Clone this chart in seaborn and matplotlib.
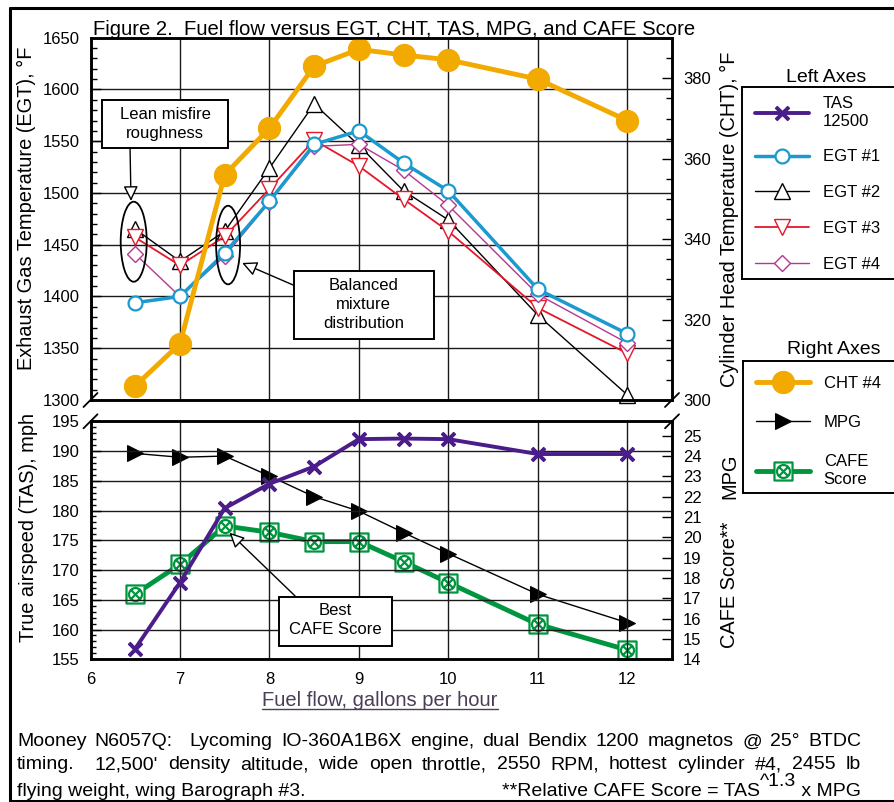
import re
import numpy as np
import pandas as pd
import matplotlib
matplotlib.use("Agg")
import matplotlib.pyplot as plt
import seaborn as sns
from matplotlib.path import Path
from matplotlib.patches import Ellipse, Rectangle
from matplotlib.lines import Line2D
from matplotlib.ticker import MultipleLocator, FixedLocator

# ---------------- data ----------------
fuel_flow = [6.5, 7, 7.5, 8, 8.5, 9, 9.5, 10, 11, 12]
egt1 = [1394, 1400, 1442, 1492, 1547, 1560, 1529, 1502, 1407, 1364]
egt2 = [1465, 1434, 1463, 1524, 1586, 1546, 1502, 1474, 1382, 1305]
egt3 = [1457, 1430, 1458, 1504, 1551, 1526, 1494, 1463, 1389, 1345]
egt4 = [1441, 1400, 1439, 1491, 1545, 1547, 1522, 1488, 1402, 1355]
cht4 = [303.5, 314.0, 356.0, 367.6, 383.0, 387.2, 385.8, 384.6, 379.8, 369.5]
tas = [156.8, 167.9, 180.4, 184.5, 187.4, 192.0, 192.1, 192.0, 189.5, 189.5]
mpg = [24.13, 23.94, 24.0, 23.02, 22.0, 21.29, 20.23, 19.2, 17.2, 15.8]
cafe = [17.21, 18.67, 20.56, 20.25, 19.79, 19.79, 18.8, 17.77, 15.72, 14.46]

egt_ticks = [1300, 1350, 1400, 1450, 1500, 1550, 1600, 1650]
cht_ticks = [300, 320, 340, 360, 380]
tas_ticks = [155, 160, 165, 170, 175, 180, 185, 190, 195]
mpg_ticks = list(range(14, 26))
x_ticks = [6, 7, 8, 9, 10, 11, 12]

left_labels = ["TAS\n12500", "EGT #1", "EGT #2", "EGT #3", "EGT #4"]
right_labels = ["CHT #4", "MPG", "CAFE\nScore"]

title = "Figure 2.  Fuel flow versus EGT, CHT, TAS, MPG, and CAFE Score"
foot1 = "Mooney N6057Q:  Lycoming IO-360A1B6X engine, dual Bendix 1200 magnetos @ 25\u00b0 BTDC"
foot2 = "timing.  12,500' density altitude, wide open throttle, 2550 RPM, hottest cylinder #4, 2455 lb"
foot3 = "flying weight, wing Barograph #3."

# ---------------- style ----------------
W, H = 894, 802
sns.set_theme(style="white")
plt.rcParams["font.family"] = ["Liberation Sans", "DejaVu Sans"]
for k in ["text.color", "axes.labelcolor", "xtick.color", "ytick.color", "axes.edgecolor"]:
    plt.rcParams[k] = "black"

c_tas = "#4B1D8A"
c_egt1 = "#1B9AD0"
c_egt2 = "black"
c_egt3 = "#E4172B"
c_egt4 = "#B5378F"
c_cht = "#F2A900"
c_mpg = "black"
c_cafe = "#00963F"

fig = plt.figure(figsize=(W / 100, H / 100), dpi=100)
fig.patch.set_facecolor("white")


def fx(px):
    return px / W


def fy(py):
    return 1 - py / H


L, R = 90.5, 672.0
T1, B1 = 37.7, 400.0
T2, B2 = 421.3, 659.3
ax1 = fig.add_axes([fx(L), fy(B1), fx(R) - fx(L), fy(T1) - fy(B1)])
ax2 = fig.add_axes([fx(L), fy(B2), fx(R) - fx(L), fy(T2) - fy(B2)])
ax1r = ax1.twinx()
ax2r = ax2.twinx()

# custom CAFE marker: square with circled x
sq = Path([(-1, -1), (1, -1), (1, 1), (-1, 1), (-1, -1)],
          [Path.MOVETO, Path.LINETO, Path.LINETO, Path.LINETO, Path.CLOSEPOLY])
circ = Path.circle((0, 0), 0.72)
d1 = Path([(-0.5, -0.5), (0.5, 0.5)], [Path.MOVETO, Path.LINETO])
d2 = Path([(-0.5, 0.5), (0.5, -0.5)], [Path.MOVETO, Path.LINETO])
cafe_marker = Path.make_compound_path(sq, circ, d1, d2)


def draw(ax, y, **kw):
    sns.lineplot(x=fuel_flow, y=y, ax=ax, clip_on=False, **kw)
    return ax.lines[-1]


# top panel (left axis: EGT)
h_e2 = draw(ax1, egt2, color=c_egt2, lw=1.0, marker="^", markersize=11,
            markerfacecolor="white", markeredgecolor=c_egt2, markeredgewidth=1.0)
h_e3 = draw(ax1, egt3, color=c_egt3, lw=1.3, marker="v", markersize=11,
            markerfacecolor="white", markeredgecolor=c_egt3, markeredgewidth=1.0)
h_e4 = draw(ax1, egt4, color=c_egt4, lw=1.0, marker="D", markersize=8,
            markerfacecolor="white", markeredgecolor=c_egt4, markeredgewidth=1.0)
h_e1 = draw(ax1, egt1, color=c_egt1, lw=2.5, marker="o", markersize=10,
            markerfacecolor="white", markeredgecolor=c_egt1, markeredgewidth=1.6)
# top panel (right axis: CHT)
h_cht = draw(ax1r, cht4, color=c_cht, lw=3.5, marker="o", markersize=16,
             markerfacecolor=c_cht, markeredgecolor=c_cht)

# bottom panel
h_mpg = draw(ax2r, mpg, color=c_mpg, lw=1.0, marker=">", markersize=11,
             markerfacecolor=c_mpg, markeredgecolor=c_mpg)
h_cafe = draw(ax2r, cafe, color=c_cafe, lw=3.5, marker=cafe_marker, markersize=13,
              markerfacecolor="white", markeredgecolor=c_cafe, markeredgewidth=1.6)
h_tas = draw(ax2, tas, color=c_tas, lw=2.8, marker=(4, 2, 45), markersize=13,
             markeredgecolor=c_tas, markeredgewidth=2.6)
ax2.set_zorder(ax2r.get_zorder() + 1)
ax2.patch.set_visible(False)

# ---------------- axes formatting ----------------
for ax in (ax1, ax2, ax1r, ax2r):
    ax.set_xlim(6, 12.5)
    ax.set_xlabel("")
    ax.set_ylabel("")
    for s in ax.spines.values():
        s.set_linewidth(1.8)
        s.set_color("black")

ax1.set_ylim(1300, 1650)
ax1r.set_ylim(300, 390.1)
ax2.set_ylim(155, 195)
ax2r.set_ylim(14, 25.71)

ax1.yaxis.set_major_locator(FixedLocator(egt_ticks))
ax1.yaxis.set_minor_locator(MultipleLocator(10))
ax1r.yaxis.set_major_locator(FixedLocator(cht_ticks))
ax1r.yaxis.set_minor_locator(MultipleLocator(5))
ax2.yaxis.set_major_locator(FixedLocator(tas_ticks))
ax2.yaxis.set_minor_locator(MultipleLocator(1))
ax2r.yaxis.set_major_locator(FixedLocator(mpg_ticks))
for ax in (ax1, ax2):
    ax.xaxis.set_major_locator(FixedLocator(x_ticks))
ax2.xaxis.set_minor_locator(MultipleLocator(0.5))

ax1.tick_params(axis="x", which="both", length=0, labelbottom=False)
ax1.tick_params(axis="y", which="major", direction="in", length=7, width=1, labelsize=12, pad=8)
ax1.tick_params(axis="y", which="minor", direction="in", length=4, width=1)
ax1r.tick_params(axis="y", which="major", direction="in", length=7, width=1, labelsize=12, pad=8)
ax1r.tick_params(axis="y", which="minor", direction="in", length=4, width=1)
ax2.tick_params(axis="x", which="major", direction="in", length=7, width=1, labelsize=12, pad=9)
ax2.tick_params(axis="x", which="minor", direction="in", length=5, width=1)
ax2.tick_params(axis="y", which="major", direction="in", length=7, width=1, labelsize=12, pad=8)
ax2.tick_params(axis="y", which="minor", direction="in", length=3.5, width=1)
ax2r.tick_params(axis="y", which="major", direction="in", length=7, width=1, labelsize=12, pad=8)
ax2r.tick_params(axis="x", which="both", length=0)
ax1r.tick_params(axis="x", which="both", length=0)

for ax in (ax1, ax2):
    ax.grid(True, which="major", color="#1a1a1a", lw=1.0)
    ax.set_axisbelow(True)

# ---------------- annotations ----------------
box_kw = dict(fill=True, facecolor="white", edgecolor="black", lw=1.4, zorder=6)
arrow_kw = dict(arrowstyle="-|>,head_length=0.45,head_width=0.22", fc="white", ec="black",
                lw=1.0, shrinkA=0, shrinkB=0, mutation_scale=20)

# Lean misfire roughness
ax1.add_patch(Rectangle((6.129, 1543.5), 7.538 - 6.129, 1589.8 - 1543.5, **box_kw))
ax1.text(6.833, 1566.6, "Lean misfire\nroughness", ha="center", va="center",
         fontsize=12, linespacing=1.35, zorder=7)
ax1.annotate("", xy=(6.453, 1492.3), xytext=(6.442, 1543.5), arrowprops=arrow_kw, zorder=7)
ax1.add_patch(Ellipse((6.483, 1452.9), 0.291, 77.3, fill=False, ec="black", lw=1.3, zorder=6))

# Balanced mixture distribution
ax1.add_patch(Rectangle((8.2796, 1358.9), 9.8345 - 8.2796, 1424.6 - 1358.9, **box_kw))
ax1.text(9.054, 1392.3, "Balanced\nmixture\ndistribution", ha="center", va="center",
         fontsize=12, linespacing=1.35, zorder=7)
ax1.annotate("", xy=(7.695, 1432.4), xytext=(8.265, 1411.1), arrowprops=arrow_kw, zorder=7)
ax1.add_patch(Ellipse((7.538, 1449.7), 0.268, 75.9, fill=False, ec="black", lw=1.3, zorder=6))

# Best CAFE score
ax2.add_patch(Rectangle((8.1085, 157.24), 9.372 - 8.1085, 165.47 - 157.24, **box_kw))
ax2.text(8.74, 161.6, "Best\nCAFE Score", ha="center", va="center",
         fontsize=12, linespacing=1.35, zorder=7)
ax2.annotate("", xy=(7.553, 176.28), xytext=(8.287, 165.64), arrowprops=arrow_kw, zorder=7)

# ---------------- axis labels ----------------
fs_lab = 14.4
fig.text(fx(26), fy(208), "Exhaust Gas Temperature (EGT), \u00b0F", rotation=90,
         ha="center", va="center", fontsize=fs_lab)
fig.text(fx(29), fy(527), "True airspeed (TAS), mph", rotation=90,
         ha="center", va="center", fontsize=fs_lab)
fig.text(fx(729), fy(219), "Cylinder Head Temperature (CHT), \u00b0F", rotation=90,
         ha="center", va="center", fontsize=fs_lab)
fig.text(fx(730), fy(476), "MPG", rotation=90, ha="center", va="center", fontsize=fs_lab)
fig.text(fx(729.5), fy(585), "CAFE Score**", rotation=90, ha="center", va="center", fontsize=fs_lab)

xl_color = "#4a3d58"
xlab = fig.text(fx(380), fy(700), "Fuel flow, gallons per hour", ha="center", va="center",
                fontsize=14.5, color=xl_color)

fig.text(fx(93), fy(35), title, ha="left", va="baseline", fontsize=14.6)

# ---------------- legends ----------------
leg_kw = dict(loc="upper left", bbox_transform=fig.transFigure,
              borderaxespad=0, fontsize=12, frameon=False,
              handlelength=3.24, handletextpad=0.82)
bp1 = 0.55
leg1 = fig.legend([h_tas, h_e1, h_e2, h_e3, h_e4], left_labels,
                  bbox_to_anchor=(fx(755 - bp1 * 16.67), fy(87)), borderpad=bp1,
                  labelspacing=1.25, **leg_kw)
bp2 = 0.9
leg2 = fig.legend([h_cht, h_mpg, h_cafe], right_labels,
                  bbox_to_anchor=(fx(756 - bp2 * 16.67), fy(361)), borderpad=bp2,
                  labelspacing=1.45, **leg_kw)


def box(x0, y0, y1):
    kw = dict(color="black", lw=1.4, solid_capstyle="projecting")
    fig.add_artist(Line2D([fx(x0), fx(x0)], [fy(y0), fy(y1)], **kw))
    fig.add_artist(Line2D([fx(x0), 1.01], [fy(y0), fy(y0)], **kw))
    fig.add_artist(Line2D([fx(x0), 1.01], [fy(y1), fy(y1)], **kw))


box(742, 87, 279)
box(743, 361, 493)
fig.text(fx(826), fy(78), "Left Axes", ha="center", va="center", fontsize=14)
fig.text(fx(834), fy(350), "Right Axes", ha="center", va="center", fontsize=14)

# ---------------- axis break marks ----------------
for (cx, cy) in [(L, B1), (L, T2), (R, B1), (R, T2)]:
    fig.add_artist(Line2D([fx(cx - 7), fx(cx + 7)], [fy(cy + 7), fy(cy - 7)],
                          color="black", lw=1.3))

# ---------------- frame ----------------
fig.add_artist(Line2D([fx(10), fx(10)], [fy(8), fy(801)], color="black", lw=2.2))
fig.add_artist(Line2D([fx(10), 1], [fy(8), fy(8)], color="black", lw=2.2))
fig.add_artist(Line2D([fx(10), 1], [fy(801), fy(801)], color="black", lw=2.2))

# ---------------- footer text (justified) ----------------
fig.canvas.draw()
rend = fig.canvas.get_renderer()


def text_w(s, fs):
    t = fig.text(0, 0, s, fontsize=fs)
    w = t.get_window_extent(rend).width
    t.remove()
    return w


# underline for x label
bb = xlab.get_window_extent(rend)
fig.add_artist(Line2D([bb.x0 / W, bb.x1 / W], [fy(708.5), fy(708.5)], color=xl_color, lw=1.0))

x0f, x1f = 17, 861
fs = 14
nat = text_w(foot1, fs)
if nat > (x1f - x0f):
    fs = fs * (x1f - x0f) / nat * 0.99


def justify(line, base_py):
    parts = re.split(r"( +)", line)
    words = parts[0::2]
    spaces = parts[1::2]
    widths = [text_w(w, fs) for w in words]
    weights = [len(s) for s in spaces]
    gap = (x1f - x0f - sum(widths)) / sum(weights)
    x = x0f
    for i, w in enumerate(words):
        fig.text(fx(x), fy(base_py), w, fontsize=fs, ha="left", va="baseline")
        x += widths[i]
        if i < len(spaces):
            x += gap * weights[i]


justify(foot1, 746.5)
justify(foot2, 769)
base3 = 796.5
fig.text(fx(x0f), fy(base3), foot3, fontsize=fs, ha="left", va="baseline")

# right part of third line with superscript
p3 = " x MPG"
sup = "^1.3"
p1 = "**Relative CAFE Score = TAS"
w3 = text_w(p3, fs)
wsup = text_w(sup, fs)
w1 = text_w(p1, fs)
xr = x1f
fig.text(fx(xr - w3), fy(base3), p3, fontsize=fs, ha="left", va="baseline")
fig.text(fx(xr - w3 - wsup), fy(base3 - 11), sup, fontsize=fs, ha="left", va="baseline")
fig.text(fx(xr - w3 - wsup - w1), fy(base3), p1, fontsize=fs, ha="left", va="baseline")

fig.savefig("out.png", dpi=100, facecolor="white")
